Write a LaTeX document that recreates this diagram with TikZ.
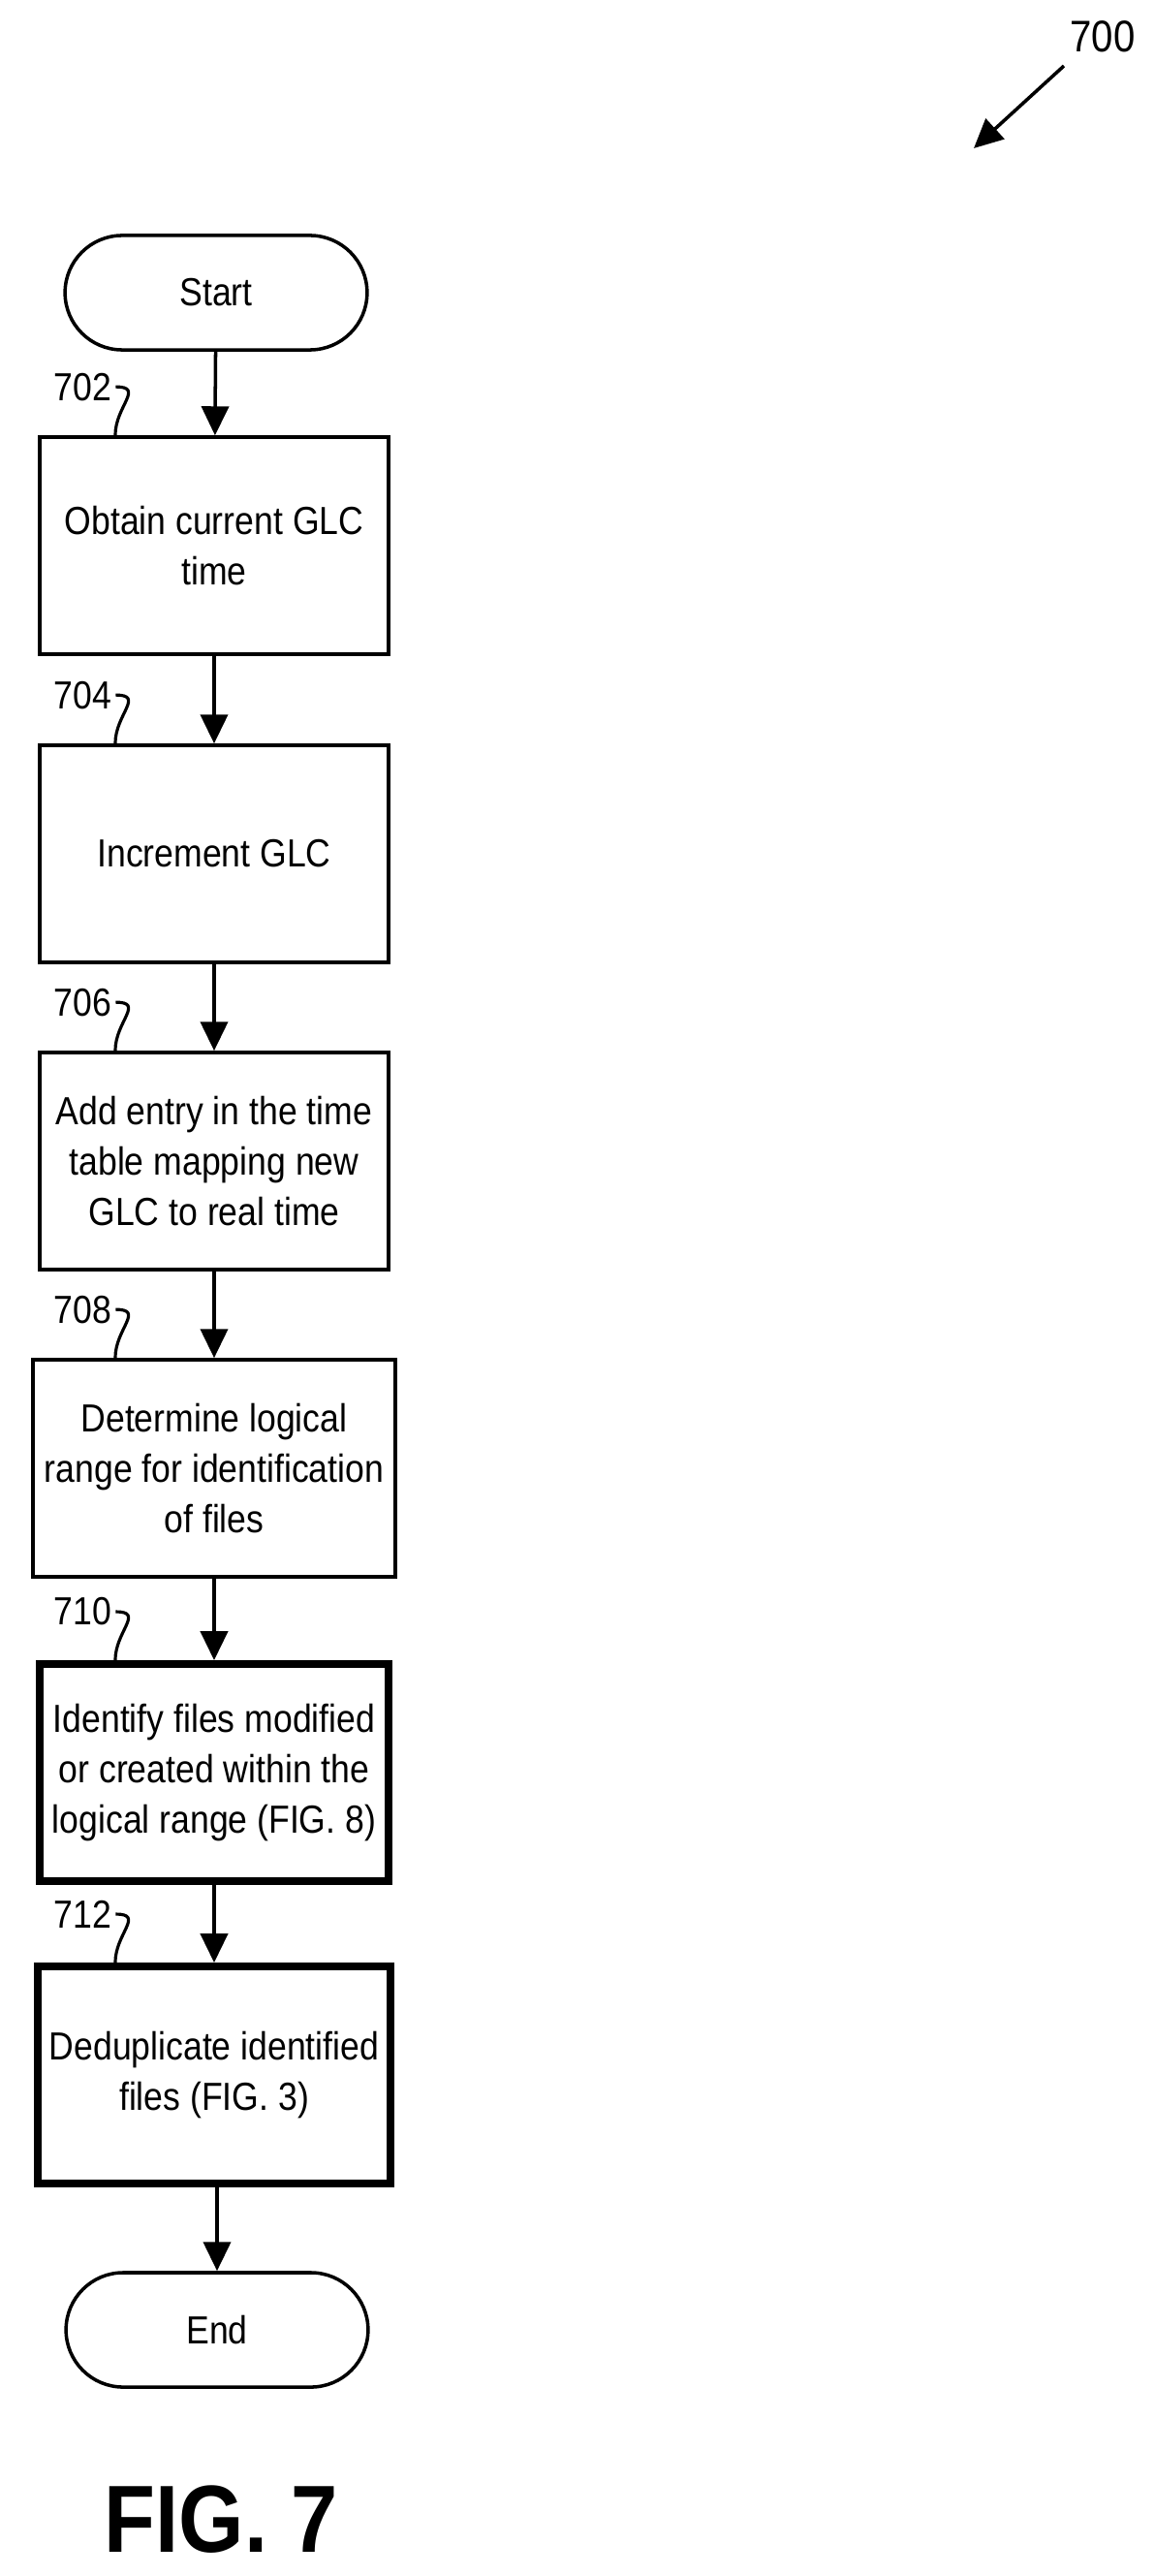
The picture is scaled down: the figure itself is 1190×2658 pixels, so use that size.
\documentclass[tikz,border=0pt]{standalone}
\usepackage{fontspec}
\setmainfont[FakeStretch=0.88]{Liberation Sans}
\usetikzlibrary{arrows.meta,shapes.misc}
\tikzset{
  paso/.style={rectangle,draw,black,line width=1pt,minimum width=3.6cm,minimum height=2.24cm,align=center,font=\fontsize{11.5}{14.8}\selectfont},
  pasofig/.style={paso,line width=2.2pt},
  term/.style={rounded rectangle,draw,black,line width=1pt,minimum width=3.35cm,minimum height=1.18cm,font=\fontsize{11.5}{14.8}\selectfont},
  ref/.style={anchor=east,inner sep=0pt,font=\fontsize{11.5}{14}\selectfont},
  flecha/.style={line width=1pt,-{Triangle[length=8.5pt,width=8pt]}}
}
\begin{document}
\begin{tikzpicture}[x=0.01cm,y=-0.01cm]
		\useasboundingbox (0,0) rectangle (1190,2658);

		\node (start) at (223,302) [term] {Start};
		\node (p702) at (221,563) [paso] {Obtain current GLC\\time};
		\node (p704) at (221,881) [paso] {Increment GLC};
		\node (p706) at (221,1198) [paso] {Add entry in the time\\table mapping new\\GLC to real time};
		\node (p708) at (221,1515) [paso] {Determine logical\\range for identification\\of files};
		\node (p710) at (221,1829) [pasofig] {Identify files modified\\or created within the\\logical range (FIG. 8)};
		\node (p712) at (221,2141) [pasofig] {Deduplicate identified\\files (FIG. 3)};
		\node (end) at (224,2404) [term] {End};

		\draw[flecha] (start) -- (p702);
		\draw[flecha] (p702) -- (p704);
		\draw[flecha] (p704) -- (p706);
		\draw[flecha] (p706) -- (p708);
		\draw[flecha] (p708) -- (p710);
		\draw[flecha] (p710) -- (p712);
		\draw[flecha] (p712.south -| end) -- (end);

		% numeros de referencia
		\foreach \n/\p in {702/p702,704/p704,706/p706,708/p708,710/p710,712/p712}{
			\node[ref] (l\n) at ([xshift=-1.05cm,yshift=0.5cm]\p.north) {\n};
			\draw[line width=0.9pt] ([xshift=1pt]l\n.east) .. controls +(0.3cm,0) and +(0,0.3cm) .. ([xshift=-1.02cm]\p.north);
		}

		\node[font=\fontsize{13}{15}\selectfont] (n700) at (1138,38) {700};
		\coordinate (c700) at (1005,153);
		\draw[flecha] (1098,68) -- (c700);

		\node[font=\fontsize{28}{30}\selectfont\bfseries] (fig) at (228,2600) {FIG. 7};
\end{tikzpicture}
\end{document}
